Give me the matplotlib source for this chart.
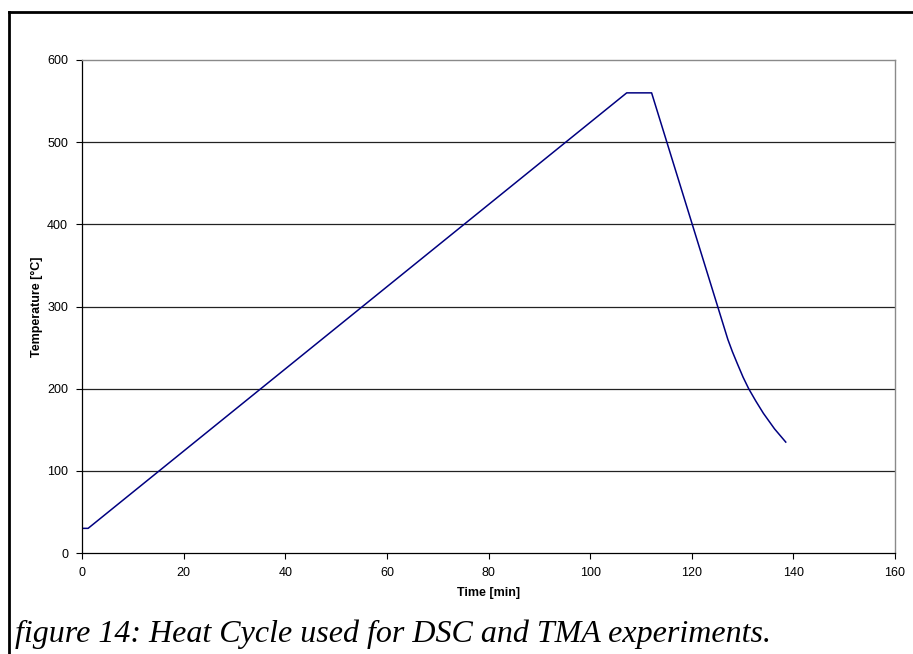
import matplotlib
matplotlib.use("Agg")
import matplotlib.pyplot as plt
from matplotlib.lines import Line2D

# Data
time_min = [0.0, 1.2, 107.2, 112.1, 115.1, 120.1, 125.1, 127.1, 128.0, 129.0,
            130.1, 131.2, 132.6, 134.1, 136.3, 138.5]
temperature_c = [30, 30, 560, 560, 500, 400, 300, 260, 245, 230,
                 214, 200, 185, 170, 151, 135]

x_ticks = [0, 20, 40, 60, 80, 100, 120, 140, 160]
y_ticks = [0, 100, 200, 300, 400, 500, 600]

x_label = "Time [min]"
y_label = "Temperature [°C]"
caption = "figure 14: Heat Cycle used for DSC and TMA experiments."

W, H, DPI = 913, 654, 100
fig = plt.figure(figsize=(W / DPI, H / DPI), dpi=DPI)
fig.patch.set_facecolor("white")

ax = fig.add_axes([82 / W, 1 - 553 / H, (895 - 82) / W, (553 - 60) / H])
ax.plot(time_min, temperature_c, color="#000080", linewidth=1.1, solid_joinstyle="round")

ax.set_xlim(0, 160)
ax.set_ylim(0, 600)
ax.set_xticks(x_ticks)
ax.set_yticks(y_ticks)
ax.set_xticklabels([str(v) for v in x_ticks], fontsize=9, family="Liberation Sans")
ax.set_yticklabels([str(v) for v in y_ticks], fontsize=9, family="Liberation Sans")
ax.tick_params(direction="out", length=4, width=0.8, color="black", pad=6)

for v in y_ticks[1:-1]:
    ax.axhline(v, color="#222222", linewidth=0.9, zorder=0)

ax.spines["left"].set_color("black")
ax.spines["bottom"].set_color("black")
ax.spines["left"].set_linewidth(0.9)
ax.spines["bottom"].set_linewidth(0.9)
ax.spines["top"].set_color("#8a8a8a")
ax.spines["right"].set_color("#8a8a8a")
ax.spines["top"].set_linewidth(1.0)
ax.spines["right"].set_linewidth(1.0)

ax.set_xlabel(x_label, fontsize=9, fontweight="bold", family="Liberation Sans", labelpad=6)
ax.set_ylabel(y_label, fontsize=9, fontweight="bold", family="Liberation Sans", labelpad=3)

# outer frame (top and left)
fig.add_artist(Line2D([9 / W, 1.0], [1 - 12 / H, 1 - 12 / H], transform=fig.transFigure,
                      color="black", linewidth=2))
fig.add_artist(Line2D([9 / W, 9 / W], [1 - 12 / H, 0.0], transform=fig.transFigure,
                      color="black", linewidth=2))

fig.text(15 / W, 1 - 642 / H, caption, fontsize=23, style="italic",
         family="Liberation Serif", ha="left", va="baseline")

fig.savefig("out.png", dpi=DPI)
